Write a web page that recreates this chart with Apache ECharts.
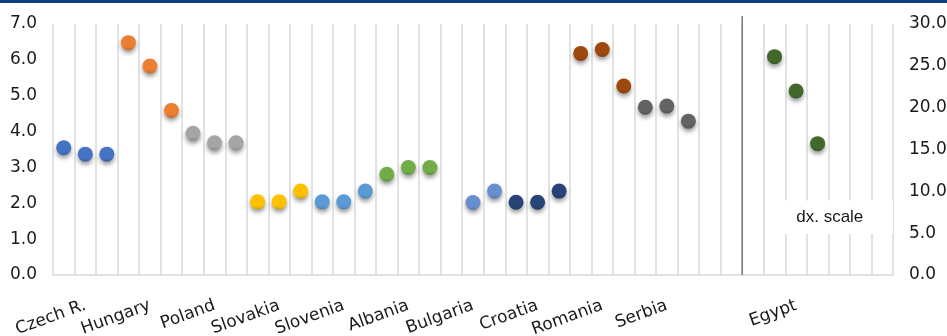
<!DOCTYPE html>
<html>
<head>
<meta charset="utf-8">
<script src="https://cdn.jsdelivr.net/npm/echarts@6/dist/echarts.min.js"></script>
<style>
  html, body { margin: 0; padding: 0; background: #ffffff; }
  #chart { width: 947px; height: 336px; }
</style>
</head>
<body>
<div id="chart"></div>
<script>
// Country groups, three slots each; the label sits on the middle slot.
const countries = ['Czech R.', 'Hungary', 'Poland', 'Slovakia', 'Slovenia', 'Albania',
                   'Bulgaria', 'Croatia', 'Romania', 'Serbia', '', 'Egypt', ''];

// Left scale values
const czechR   = [3.55, 3.37, 3.37];
const hungary  = [6.48, 5.83, 4.59];
const poland   = [3.95, 3.69, 3.69];
const slovakia = [2.04, 2.04, 2.34];
const slovenia = [2.04, 2.04, 2.34];
const albania  = [2.81, 3.00, 3.00];
const bulgaria = [null, 2.02, 2.34];
const croatia  = [2.03, 2.03, 2.34];
const romania  = [6.18, 6.29, 5.27];
const serbia   = [4.68, 4.71, 4.29];
// Right scale values
const egypt    = [26.1, 22.0, 15.7];

const leftTicks  = [0, 1, 2, 3, 4, 5, 6, 7];
const rightTicks = [0, 5, 10, 15, 20, 25, 30];
const scaleNote  = 'dx. scale';

const SLOTS_PER_GROUP = 3;
const categories = [];
countries.forEach(name => {
  for (let s = 0; s < SLOTS_PER_GROUP; s++) categories.push(s === 1 ? name : '');
});

const seriesDefs = [
  { name: 'Czech R.', values: czechR,   group: 0,  color: '#4472c4', axis: 0 },
  { name: 'Hungary',  values: hungary,  group: 1,  color: '#ed7d31', axis: 0 },
  { name: 'Poland',   values: poland,   group: 2,  color: '#a5a5a5', axis: 0 },
  { name: 'Slovakia', values: slovakia, group: 3,  color: '#ffc000', axis: 0 },
  { name: 'Slovenia', values: slovenia, group: 4,  color: '#5b9bd5', axis: 0 },
  { name: 'Albania',  values: albania,  group: 5,  color: '#70ad47', axis: 0 },
  { name: 'Bulgaria', values: bulgaria, group: 6,  color: '#698ed0', axis: 0 },
  { name: 'Croatia',  values: croatia,  group: 7,  color: '#264478', axis: 0 },
  { name: 'Romania',  values: romania,  group: 8,  color: '#9e480e', axis: 0 },
  { name: 'Serbia',   values: serbia,   group: 9,  color: '#636363', axis: 0 },
  { name: 'Egypt',    values: egypt,    group: 11, color: '#43682b', axis: 1 }
];

function shade(hex, f) {
  const n = parseInt(hex.slice(1), 16);
  let r = (n >> 16) & 255, g = (n >> 8) & 255, b = n & 255;
  const mix = c => f >= 0 ? Math.round(c + (255 - c) * f) : Math.round(c * (1 + f));
  return 'rgb(' + mix(r) + ',' + mix(g) + ',' + mix(b) + ')';
}

const series = seriesDefs.map(d => ({
  name: d.name,
  type: 'scatter',
  yAxisIndex: d.axis,
  symbol: 'circle',
  symbolSize: 15,
  itemStyle: {
    opacity: 1,
    color: {
      type: 'linear', x: 0, y: 0, x2: 0, y2: 1,
      colorStops: [
        { offset: 0, color: d.color },
        { offset: 0.75, color: d.color },
        { offset: 1, color: shade(d.color, -0.15) }
      ]
    },
    shadowBlur: 4,
    shadowOffsetY: 3,
    shadowColor: 'rgba(0,0,0,0.4)'
  },
  data: d.values
    .map((v, i) => v == null ? null : [d.group * SLOTS_PER_GROUP + i, v])
    .filter(p => p !== null)
}));

const fontAxis = '"DejaVu Sans", sans-serif';

const chart = echarts.init(document.getElementById('chart'), null, { renderer: 'canvas' });
chart.setOption({
  animation: false,
  backgroundColor: '#ffffff',
  grid: { left: 53, right: 54, top: 24, bottom: 61, outerBoundsMode: 'none', containLabel: false },
  xAxis: {
    type: 'category',
    data: categories,
    boundaryGap: true,
    axisLine: { show: true, lineStyle: { color: '#d9d9d9', width: 1.5 } },
    axisTick: { show: false },
    splitLine: { show: true, interval: 0, lineStyle: { color: '#d9d9d9', width: 1.5 } },
    axisLabel: {
      interval: 0,
      rotate: 20,
      margin: 30,
      hideOverlap: false,
      color: '#1a1a1a',
      fontFamily: fontAxis,
      fontSize: 17
    }
  },
  yAxis: [
    {
      type: 'value', min: leftTicks[0], max: leftTicks[leftTicks.length - 1],
      interval: leftTicks[1] - leftTicks[0],
      axisLine: { show: false }, axisTick: { show: false }, splitLine: { show: false },
      axisLabel: { margin: 16, color: '#1a1a1a', fontFamily: fontAxis, fontSize: 17,
                   formatter: v => v.toFixed(1) }
    },
    {
      type: 'value', min: rightTicks[0], max: rightTicks[rightTicks.length - 1],
      interval: rightTicks[1] - rightTicks[0],
      axisLine: { show: false }, axisTick: { show: false }, splitLine: { show: false },
      axisLabel: { margin: 16, color: '#1a1a1a', fontFamily: fontAxis, fontSize: 17,
                   formatter: v => v.toFixed(1) }
    }
  ],
  series: series
});

// Separator between the main group and the right-scale group,
// plus the header band and the scale note.
const sepA = chart.convertToPixel({ xAxisIndex: 0 }, 31);
const sepB = chart.convertToPixel({ xAxisIndex: 0 }, 32);
const sepX = (sepA + sepB) / 2;
const yZero = chart.convertToPixel({ yAxisIndex: 0 }, 0);
const noteTop = chart.convertToPixel({ yAxisIndex: 1 }, 8.9);
const noteBottom = chart.convertToPixel({ yAxisIndex: 1 }, 4.9);
const plotRight = 947 - 54;
const noteLeft = chart.convertToPixel({ xAxisIndex: 0 }, 33) - 8;

chart.setOption({
  graphic: [
    { type: 'rect', shape: { x: 0, y: 0, width: 947, height: 3 },
      style: { fill: '#0b3f7f' }, z: 100 },
    { type: 'line', shape: { x1: sepX, y1: 16, x2: sepX, y2: yZero },
      style: { stroke: '#7a7a7a', lineWidth: 1.5 }, z: 100 },
    { type: 'rect', shape: { x: noteLeft, y: noteTop, width: plotRight - noteLeft, height: noteBottom - noteTop },
      style: { fill: '#ffffff' }, z: 100 },
    { type: 'text', x: (noteLeft + plotRight) / 2, y: (noteTop + noteBottom) / 2,
      style: { text: scaleNote, fill: '#1a1a1a', font: '17px "Liberation Sans", sans-serif',
               align: 'center', verticalAlign: 'middle' }, z: 101 }
  ]
});
</script>
</body>
</html>
